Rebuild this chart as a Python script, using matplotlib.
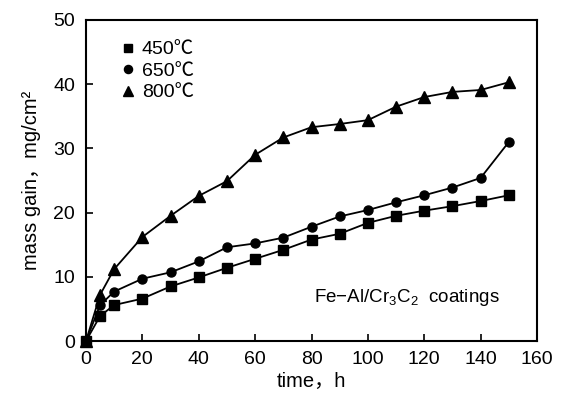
import matplotlib
matplotlib.use('Agg')
import matplotlib.pyplot as plt

plt.rcParams['font.family'] = ['Liberation Sans', 'Noto Sans CJK SC', 'DejaVu Sans']
plt.rcParams['mathtext.fontset'] = 'custom'
plt.rcParams['mathtext.rm'] = 'Liberation Sans'

time_h = [0, 5, 10, 20, 30, 40, 50, 60, 70, 80, 90, 100, 110, 120, 130, 140, 150]
gain_450 = [0, 3.9, 5.6, 6.6, 8.5, 9.9, 11.4, 12.8, 14.2, 15.8, 16.7, 18.4, 19.5, 20.3, 21.0, 21.8, 22.7]
gain_650 = [0, 5.6, 7.7, 9.7, 10.7, 12.4, 14.6, 15.2, 16.1, 17.8, 19.4, 20.4, 21.6, 22.7, 23.9, 25.4, 31.0]
gain_800 = [0, 7.2, 11.2, 16.2, 19.5, 22.6, 24.9, 29.0, 31.7, 33.3, 33.8, 34.4, 36.5, 38.0, 38.8, 39.1, 40.3]
labels = ['450℃', '650℃', '800℃']

fig = plt.figure(figsize=(5.65, 3.97), dpi=100)
ax = fig.add_axes([86/565, 1 - 341/397, (537-86)/565, (341-20)/397])

sizes = [7, 6.5, 8]
for y, m, ms, lab in zip([gain_450, gain_650, gain_800], ['s', 'o', '^'], sizes, labels):
    ax.plot(time_h, y, '-k', lw=1.3, marker=m, ms=ms, mfc='k', mec='k', label=lab,
            clip_on=False, zorder=3)

ax.set_xlim(0, 160)
ax.set_ylim(0, 50)
ax.set_xticks(range(0, 161, 20))
ax.set_yticks(range(0, 51, 10))
ax.tick_params(direction='in', length=5, width=1.2, labelsize=14)
ax.tick_params(axis='x', pad=7)
ax.tick_params(axis='y', pad=8)
for s in ax.spines.values():
    s.set_linewidth(1.5)

ax.set_xlabel('time，h', fontsize=14.5, labelpad=3)
ax.set_ylabel('mass gain，mg/cm²', fontsize=14.5, labelpad=9)

leg = ax.legend(loc='upper left', handlelength=0, frameon=False, fontsize=14,
                bbox_to_anchor=(0.055, 0.99), handletextpad=0.7, labelspacing=0.2,
                markerscale=0.9)
for h in leg.legend_handles:
    h.set_linestyle('none')

ax.text(0.505, 0.12, 'Fe−Al/Cr$_3$C$_2$  coatings', transform=ax.transAxes, fontsize=13.5)

fig.savefig('out.png', dpi=100)
